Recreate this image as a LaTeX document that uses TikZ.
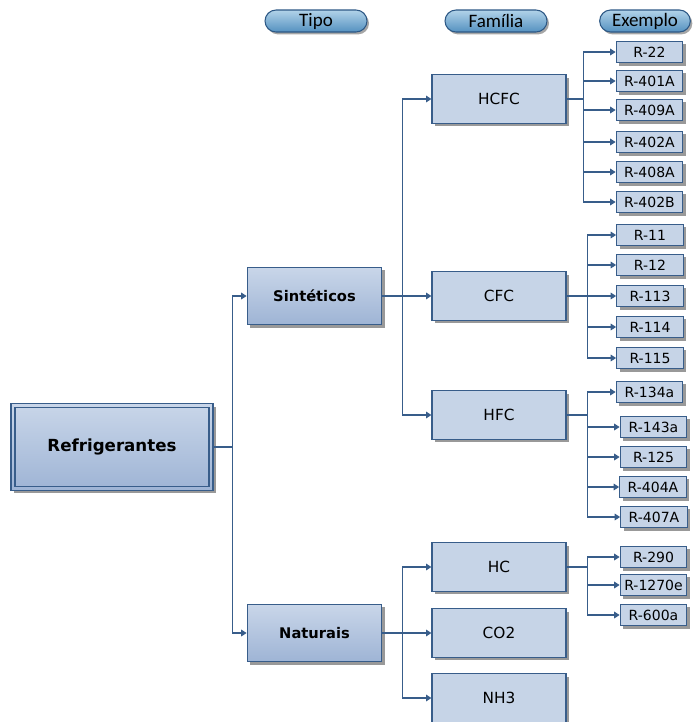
\documentclass[tikz,border=0pt]{standalone}
\usepackage{fontspec}
\setmainfont{Carlito}
\newfontfamily\boxfont{DejaVu Sans}
\definecolor{linkblue}{RGB}{56,93,138}
\definecolor{boxlight}{RGB}{201,214,233}
\definecolor{boxdark}{RGB}{158,180,213}
\definecolor{famfill}{RGB}{198,212,231}
\definecolor{pilltop}{RGB}{178,211,233}
\definecolor{pillbot}{RGB}{84,145,192}
\definecolor{pillline}{RGB}{45,88,133}
\usepackage{tikz}
\usetikzlibrary{positioning, calc, arrows.meta, shapes.misc, shadows}

\begin{document}
\begin{tikzpicture}[
        x=0.75pt, y=-0.75pt,
        box/.style={rectangle, draw=linkblue, line width=0.9pt, drop shadow={shadow xshift=2.2pt, shadow yshift=-2.2pt, fill=black!40, opacity=1}},
        root/.style={box, top color=boxlight, bottom color=boxdark, minimum width=151.5pt, minimum height=65pt, font=\boxfont\bfseries\fontsize{12.5}{14}\selectfont,
            path picture={\draw[linkblue, line width=0.8pt] ([shift={(3pt,-3pt)}]path picture bounding box.north west) rectangle ([shift={(-3pt,3pt)}]path picture bounding box.south east);}},
        tipo/.style={box, top color=boxlight, bottom color=boxdark, minimum width=101pt, minimum height=43pt, font=\boxfont\bfseries\fontsize{11}{13}\selectfont},
        fam/.style={box, fill=famfill, minimum width=100.5pt, minimum height=36.5pt, font=\boxfont\fontsize{11.5}{13}\selectfont},
        ex/.style={box, fill=famfill, minimum width=50pt, minimum height=16pt, inner sep=1pt, font=\boxfont\fontsize{10.5}{12}\selectfont},
        pill/.style={rounded rectangle, draw=pillline, line width=0.8pt, top color=pilltop, bottom color=pillbot, minimum width=76.5pt, minimum height=16.5pt, inner sep=0pt, font=\fontsize{14.25}{16}\selectfont,
            drop shadow={shadow xshift=1.5pt, shadow yshift=-1.8pt, fill=black!35, opacity=1}},
        link/.style={draw=linkblue, line width=0.8pt, -{Triangle[length=4pt, width=5pt]}}
    ]
        \useasboundingbox (0,0) rectangle (693,722);

        % Headers
        \node[pill] (tipohead) at (316,21) {Tipo};
        \node[pill] (famhead) at (496,21) {Família};
        \node[pill, minimum width=68pt] (exhead) at (645,21) {Exemplo};

        % Root and types
        \node[root] (refr) at (112,447) {Refrigerantes};
        \node[tipo] (sint) at (314.5,296) {Sintéticos};
        \node[tipo] (nat) at (314.5,633) {Naturais};

        % Families
        \node[fam] (hcfc) at (499,99) {HCFC};
        \node[fam] (cfc) at (499,296) {CFC};
        \node[fam] (hfc) at (499,415) {HFC};
        \node[fam] (hc) at (499,567) {HC};
        \node[fam] (co2) at (499,633) {CO2};
        \node[fam] (nh3) at (499,698) {NH3};

        % Examples
        \node[ex] (r22) at (649.5,52) {R-22};
        \node[ex] (r401a) at (649.5,81) {R-401A};
        \node[ex] (r409a) at (649.5,110) {R-409A};
        \node[ex] (r402a) at (649.5,142) {R-402A};
        \node[ex] (r408a) at (649.5,172) {R-408A};
        \node[ex] (r402b) at (649.5,202) {R-402B};

        \node[ex] (r11) at (650,235) {R-11};
        \node[ex] (r12) at (650,265) {R-12};
        \node[ex] (r113) at (650,296) {R-113};
        \node[ex] (r114) at (650,327) {R-114};
        \node[ex] (r115) at (650,358) {R-115};

        \node[ex] (r134a) at (649.5,392) {R-134a};
        \node[ex] (r143a) at (653.5,427) {R-143a};
        \node[ex] (r125) at (653.5,457) {R-125};
        \node[ex] (r404a) at (653,487) {R-404A};
        \node[ex] (r407a) at (654,517) {R-407A};

        \node[ex] (r290) at (653.5,557) {R-290};
        \node[ex] (r1270e) at (653.5,585) {R-1270e};
        \node[ex] (r600a) at (653.5,615) {R-600a};

        % Junctions
        \coordinate (jrefr) at ([xshift=14.25pt]refr.east);
        \coordinate (jsint) at ([xshift=15pt]sint.east);
        \coordinate (jnat) at ([xshift=15pt]nat.east);
        \coordinate (jhcfc) at ([xshift=12.75pt]hcfc.east);
        \coordinate (jcfc) at ([xshift=15.75pt]cfc.east);
        \coordinate (jhfc) at ([xshift=15.75pt]hfc.east);
        \coordinate (jhc) at ([xshift=15.75pt]hc.east);

        % Arrows
        \draw[link] (refr.east) -- (jrefr) |- (sint.west);
        \draw[link] (jrefr) |- (nat.west);

        \draw[link] (sint.east) -- (cfc.west);
        \draw[link] (jsint) |- (hcfc.west);
        \draw[link] (jsint) |- (hfc.west);

        \draw[link] (nat.east) -- (co2.west);
        \draw[link] (jnat) |- (hc.west);
        \draw[link] (jnat) |- (nh3.west);

        \draw[link] (hcfc.east) -- (jhcfc) |- (r22.west);
        \draw[link] (jhcfc) |- (r401a.west);
        \draw[link] (jhcfc) |- (r409a.west);
        \draw[link] (jhcfc) |- (r402a.west);
        \draw[link] (jhcfc) |- (r408a.west);
        \draw[link] (jhcfc) |- (r402b.west);

        \draw[link] (cfc.east) -- (r113.west);
        \draw[link] (jcfc) |- (r11.west);
        \draw[link] (jcfc) |- (r12.west);
        \draw[link] (jcfc) |- (r114.west);
        \draw[link] (jcfc) |- (r115.west);

        \draw[link] (hfc.east) -- (jhfc) |- (r134a.west);
        \draw[link] (jhfc) |- (r143a.west);
        \draw[link] (jhfc) |- (r125.west);
        \draw[link] (jhfc) |- (r404a.west);
        \draw[link] (jhfc) |- (r407a.west);

        \draw[link] (hc.east) -- (jhc) |- (r290.west);
        \draw[link] (jhc) |- (r1270e.west);
        \draw[link] (jhc) |- (r600a.west);
    \end{tikzpicture}
\end{document}
